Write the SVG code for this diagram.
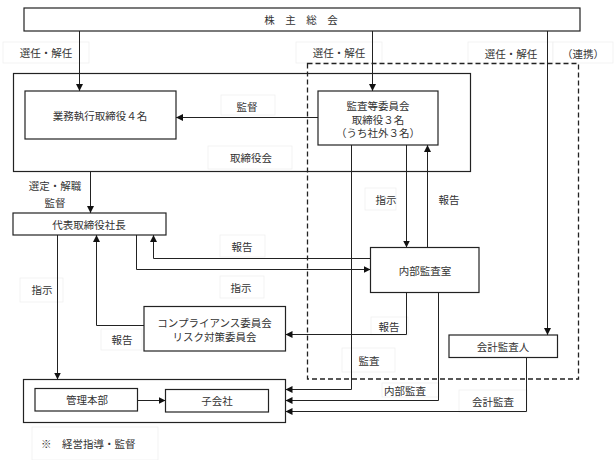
<svg xmlns="http://www.w3.org/2000/svg" width="615" height="460" viewBox="0 0 615 460">
<style>
text{font-family:"Noto Sans CJK JP","Noto Sans CJK SC",sans-serif;font-size:10.5px;fill:#333;text-anchor:middle;dominant-baseline:central}
.box{fill:#fff;stroke:#222;stroke-width:1.2}
.lbl{fill:#fff;stroke:#efefef;stroke-width:0.8}
.ln{fill:none;stroke:#222;stroke-width:1}
.arr{fill:none;stroke:#222;stroke-width:1;marker-end:url(#ah)}
.dash{fill:none;stroke:#222;stroke-width:1.3;stroke-dasharray:5,3}
</style>
<defs>
<marker id="ah" markerUnits="userSpaceOnUse" markerWidth="8" markerHeight="8" refX="7" refY="3.5" orient="auto">
<path d="M0,0 L7,3.5 L0,7 z" fill="#111"/>
</marker>
</defs>
<rect width="615" height="460" fill="#fff"/>

<g id="labels">
<rect class="lbl" x="3" y="42" width="86" height="21"/>
<rect class="lbl" x="296" y="42" width="86" height="21"/>
<rect class="lbl" x="468" y="42" width="85" height="21"/>
<rect class="lbl" x="553" y="42" width="60" height="21"/>
<rect class="lbl" x="221" y="95" width="54" height="20"/>
<rect class="lbl" x="208" y="146" width="84" height="23"/>
<rect class="lbl" x="365" y="188" width="31" height="22"/>
<rect class="lbl" x="220" y="235" width="45" height="22"/>
<rect class="lbl" x="220" y="276" width="44" height="22"/>
<rect class="lbl" x="20" y="278" width="43" height="24"/>
<rect class="lbl" x="101" y="329" width="41" height="21"/>
<rect class="lbl" x="371" y="317" width="37" height="18"/>
<rect class="lbl" x="342" y="348" width="53" height="24"/>
<rect class="lbl" x="382" y="383" width="57" height="14"/>
<rect class="lbl" x="459" y="390" width="68" height="22"/>
<rect class="lbl" x="32" y="427" width="126" height="33"/>
<text x="46" y="52">選任・解任</text>
<text x="339" y="52">選任・解任</text>
<text x="511" y="53">選任・解任</text>
<text x="583" y="53">（連携）</text>
<text x="247" y="106">監督</text>
<text x="251" y="157">取締役会</text>
<text x="55" y="185">選定・解職</text>
<text x="55" y="202">監督</text>
<text x="386" y="199">指示</text>
<text x="449" y="199">報告</text>
<text x="242" y="246">報告</text>
<text x="241" y="287">指示</text>
<text x="42" y="289">指示</text>
<text x="122" y="339">報告</text>
<text x="389" y="326">報告</text>
<text x="369" y="360">監査</text>
<text x="405" y="390">内部監査</text>
<text x="493" y="401">会計監査</text>
<text x="151" y="411">※</text>
<text x="41" y="443" style="text-anchor:start">※　経営指導・監督</text>
</g>

<g id="n-board-frame"><rect class="box" x="13.5" y="73.5" width="457" height="98" style="fill:none"/></g>
<g id="n-audit-frame"><rect class="dash" x="307.5" y="63.5" width="271" height="315.5"/></g>
<g id="n-mgmt-frame"><rect class="box" x="23.5" y="379.5" width="262" height="43"/></g>

<g id="connectors">
<line class="arr" x1="79.5" y1="31" x2="79.5" y2="91"/>
<line class="arr" x1="372.5" y1="31" x2="372.5" y2="91"/>
<line class="arr" x1="547.5" y1="31" x2="547.5" y2="335"/>
<line class="arr" x1="318" y1="117.5" x2="176" y2="117.5"/>
<line class="arr" x1="90.5" y1="171.5" x2="90.5" y2="213"/>
<line class="arr" x1="57.5" y1="235" x2="57.5" y2="379.5"/>
<path class="arr" d="M144,325.5 H96.5 V235"/>
<path class="arr" d="M136.5,235 V269.5 H370.5"/>
<path class="arr" d="M370.5,258.5 H153.5 V235"/>
<path class="arr" d="M351.5,145 V389.5 H285.5"/>
<line class="arr" x1="406.5" y1="145" x2="406.5" y2="247.5"/>
<line class="arr" x1="427.5" y1="247.5" x2="427.5" y2="145"/>
<path class="arr" d="M406.5,292.5 V334.5 H285.5"/>
<path class="arr" d="M438.5,292.5 V400.5 H285.5"/>
<path class="arr" d="M526.5,357.5 V411.5 H285.5"/>
<line class="arr" x1="137.5" y1="400.5" x2="165.5" y2="400.5"/>
</g>

<g id="n-agm"><rect class="box" x="24" y="8" width="556" height="23"/><text x="301" y="19.5">株　主　総　会</text></g>
<g id="n-exec"><rect class="box" x="25" y="91" width="151" height="48"/><text x="100" y="115">業務執行取締役４名</text></g>
<g id="n-audit-committee"><rect class="box" x="318" y="91" width="120" height="54"/><text x="378" y="105">監査等委員会</text><text x="378" y="119">取締役３名</text><text x="378" y="132.5">（うち社外３名）</text></g>
<g id="n-president"><rect class="box" x="13" y="213" width="153" height="22"/><text x="89" y="224">代表取締役社長</text></g>
<g id="n-internal-audit"><rect class="box" x="370.5" y="247.5" width="108.5" height="45"/><text x="425" y="270">内部監査室</text></g>
<g id="n-compliance"><rect class="box" x="144" y="306.5" width="141.5" height="44.5"/><text x="214.5" y="322.5">コンプライアンス委員会</text><text x="214.5" y="336">リスク対策委員会</text></g>
<g id="n-accounting-auditor"><rect class="box" x="449" y="335" width="108.5" height="22.5"/><text x="503" y="346">会計監査人</text></g>
<g id="n-admin"><rect class="box" x="35" y="388.5" width="102.5" height="22.5"/><text x="87" y="399.5">管理本部</text></g>
<g id="n-subsidiary"><rect class="box" x="165.5" y="389.5" width="103" height="22.5"/><text x="217" y="400.5">子会社</text></g>
</svg>
